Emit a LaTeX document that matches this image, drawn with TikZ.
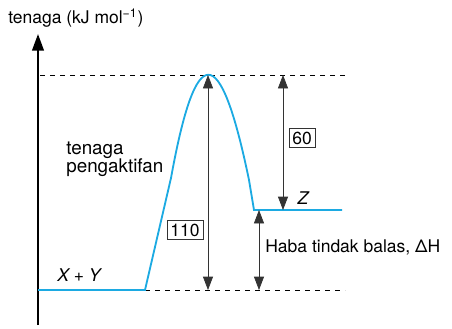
\documentclass[tikz,border=0pt]{standalone}
\usepackage{fontspec}
\setmainfont{TeX Gyre Heros}
\usetikzlibrary{arrows.meta}
\definecolor{curveblue}{HTML}{1CAAE2}
\definecolor{arrowgray}{HTML}{333333}
\tikzset{
  lbl/.style={inner sep=0pt, font=\fontsize{10.5}{12.5}\selectfont},
  valbox/.style={draw=arrowgray, thin, inner sep=2pt, font=\fontsize{10.5}{12}\selectfont},
  level/.style={dashed, thin},
  span/.style={arrowgray, thin, {Triangle[width=6pt,length=8pt]}-{Triangle[width=6pt,length=8pt]}}
}
\begin{document}
\begin{tikzpicture}[x=0.6pt, y=-0.6pt]
    \useasboundingbox (0,0) rectangle (452,328);
    % axis
    \coordinate (axbot) at (38,325);
    \coordinate (axtop) at (38,34);
    \draw[line width=1.3pt, -{Triangle[width=7pt,length=10pt]}] (axbot) -- (axtop);
    \node[lbl, anchor=west] (ylabel) at (8,18) {tenaga (kJ mol\textsuperscript{−1})};
    % energy levels
    \coordinate (peak) at (208,75);
    \coordinate (start) at (145,290);
    \coordinate (prod) at (254,210);
    \draw[level] (40,75) -- (345,75);
    \draw[level] (start) -- (345,290);
    % profile
    \draw[curveblue, line width=1.1pt] (38,290) -- (start) -- (171,178)
        .. controls (196,40) and (220,40) .. (249,180) -- (prod) -- (342,210);
    % arrows
    \coordinate (a1) at (208,290);
    \coordinate (b0) at (283,75);
    \coordinate (b1) at (283,210);
    \coordinate (c0) at (259,210);
    \coordinate (c1) at (259,290);
    \draw[span] (peak) -- (a1);
    \draw[span] (b0) -- (b1);
    \draw[span] (c0) -- (c1);
    % labels
    \node[valbox] (ea) at (185,230) {110};
    \node[valbox] (dz) at (302,138) {60};
    \node[lbl, anchor=west] (dh) at (265,247) {Haba tindak balas, ΔH};
    \node[lbl, anchor=base west, align=left, font=\fontsize{11.3}{10.8}\selectfont] (act) at (66,172) {tenaga\\pengaktifan};
    \node[lbl, font=\fontsize{10.5}{12}\selectfont\itshape] (z) at (303,198) {Z};
    \node[lbl, font=\fontsize{10.5}{12}\selectfont\itshape] (xy) at (79,275) {X + Y};
\end{tikzpicture}
\end{document}
